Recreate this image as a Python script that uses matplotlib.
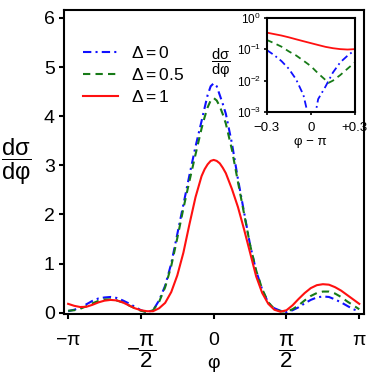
import numpy as np
import matplotlib
matplotlib.use("Agg")
from matplotlib import pyplot as plt
from matplotlib.ticker import FixedLocator, NullLocator

plt.rcParams['font.family'] = ['Liberation Sans', 'DejaVu Sans']
plt.rcParams['mathtext.fontset'] = 'custom'
plt.rcParams['mathtext.rm'] = 'Liberation Sans'
plt.rcParams['mathtext.it'] = 'Liberation Sans'
plt.rcParams['mathtext.sf'] = 'Liberation Sans'
plt.rcParams['mathtext.bf'] = 'Liberation Sans:bold'

# main panel: dsigma/dphi
# phi = -pi ... pi in steps of pi/24, plus a few extra points around the peak
phi = np.sort(np.concatenate([np.linspace(-np.pi, np.pi, 49), [-0.196, -0.065, 0.065, 0.196]]))
xs_d0 = [0.03, 0.06, 0.10, 0.17, 0.24, 0.29, 0.31, 0.32, 0.30, 0.25, 0.19, 0.12, 0.05,
         0.01, 0.05, 0.25, 0.55, 1.00, 1.60, 2.20, 2.80, 3.38, 3.90, 4.17, 4.43, 4.61, 4.67,
         4.61, 4.43, 4.25, 4.05, 3.45, 2.72, 2.05, 1.38, 0.85, 0.47, 0.20, 0.09, 0.04, 0.01,
         0.05, 0.11, 0.19, 0.26, 0.31, 0.33, 0.32, 0.27, 0.21, 0.14, 0.07, 0.03]
xs_d05 = [0.04, 0.05, 0.08, 0.13, 0.19, 0.24, 0.27, 0.27, 0.25, 0.21, 0.15, 0.09, 0.04,
          0.01, 0.05, 0.22, 0.52, 0.95, 1.52, 2.12, 2.68, 3.22, 3.75, 3.98, 4.18, 4.32, 4.37,
          4.32, 4.20, 4.04, 3.85, 3.32, 2.66, 2.02, 1.38, 0.86, 0.48, 0.21, 0.08, 0.03, 0.02,
          0.07, 0.15, 0.25, 0.34, 0.40, 0.43, 0.43, 0.39, 0.32, 0.23, 0.15, 0.07]
xs_d1 = [0.18, 0.14, 0.115, 0.12, 0.16, 0.21, 0.245, 0.26, 0.25, 0.21, 0.15, 0.09, 0.05,
         0.03, 0.03, 0.09, 0.20, 0.42, 0.76, 1.22, 1.80, 2.35, 2.78, 2.92, 3.02, 3.09, 3.11,
         3.09, 3.04, 2.95, 2.84, 2.52, 2.15, 1.70, 1.22, 0.74, 0.40, 0.18, 0.06, 0.02, 0.05,
         0.15, 0.28, 0.40, 0.50, 0.56, 0.58, 0.57, 0.52, 0.45, 0.36, 0.27, 0.18]

# inset: near phi = pi, log scale
dphi_red = [-0.3, -0.25, -0.2, -0.15, -0.1, -0.05, 0.0, 0.05, 0.1, 0.15, 0.2, 0.25, 0.3]
in_d1 = [0.334, 0.30, 0.27, 0.237, 0.205, 0.178, 0.155, 0.135, 0.118, 0.107, 0.100, 0.097, 0.100]
dphi_green = [-0.3, -0.25, -0.2, -0.15, -0.1, -0.05, 0.0, 0.05, 0.1, 0.12, 0.15, 0.2, 0.25, 0.3]
in_d05 = [0.196, 0.155, 0.12, 0.085, 0.063, 0.043, 0.029, 0.017, 0.0105, 0.0085, 0.010, 0.015, 0.024, 0.038]
dphi_blue = [-0.3, -0.25, -0.2, -0.15, -0.1, -0.05, -0.025, 0.005, 0.035, 0.05, 0.1, 0.15, 0.2, 0.25, 0.3]
in_d0 = [0.094, 0.065, 0.042, 0.024, 0.011, 0.0035, 0.0011, 1e-6, 0.0011, 0.0026, 0.0065, 0.018, 0.038, 0.062, 0.094]

labels = [r'$\Delta = 0$', r'$\Delta = 0.5$', r'$\Delta = 1$']
colors = ['#1010ff', '#177a17', '#ff1010']
dash_blue = (0, (4, 2, 1, 2))
dash_green = (0, (3.5, 2.5))

fig = plt.figure(figsize=(3.74, 3.74), dpi=100)
ax = fig.add_axes([0.171, 0.160, 0.802, 0.813])

ax.plot(phi, xs_d0, color=colors[0], lw=1.5, linestyle=dash_blue, label=labels[0])
ax.plot(phi, xs_d05, color=colors[1], lw=1.5, linestyle=dash_green, label=labels[1])
ax.plot(phi, xs_d1, color=colors[2], lw=1.5, label=labels[2])

ax.set_xlim(-np.pi - 0.09, np.pi + 0.1)
ax.set_ylim(-0.03, 6.16)
ax.set_yticks([0, 1, 2, 3, 4, 5, 6])
ax.set_xticks([-np.pi, -np.pi / 2, 0, np.pi / 2, np.pi])
ax.set_xticklabels([r'$-\pi$', r'$-\dfrac{\pi}{2}$', r'$0$', r'$\dfrac{\pi}{2}$', r'$\pi$'])
ax.tick_params(direction='out', length=3.6, width=1.5, labelsize=14)
ax.tick_params(axis='x', pad=9)
ax.tick_params(axis='y', pad=3)
for lbl in ax.get_xticklabels():
    if 'frac' in lbl.get_text():
        lbl.set_fontsize(16)
for s in ax.spines.values():
    s.set_linewidth(1.5)

ax.set_xlabel('φ', fontsize=14, va='center')
ax.xaxis.set_label_coords(0.5, -0.161)
ax.set_ylabel(r'$\dfrac{\mathrm{d}\sigma}{\mathrm{d}φ}$', fontsize=17, rotation=0,
              ha='center', va='center')
ax.yaxis.set_label_coords(-0.158, 0.5)

ax.legend(loc='upper left', bbox_to_anchor=(0.063, 0.885), frameon=False,
          fontsize=12.5, handlelength=2.0, handletextpad=0.75, labelspacing=0.35,
          borderpad=0, borderaxespad=0)

# inset
axi = fig.add_axes([0.713, 0.700, 0.236, 0.253])
axi.plot(dphi_blue, in_d0, color=colors[0], lw=1.3, linestyle=dash_blue)
axi.plot(dphi_green, in_d05, color=colors[1], lw=1.3, linestyle=dash_green)
axi.plot(dphi_red, in_d1, color=colors[2], lw=1.3)
axi.set_yscale('log')
axi.set_xlim(-0.3, 0.3)
axi.set_ylim(1e-3, 1)
axi.xaxis.set_major_locator(FixedLocator([-0.3, 0, 0.3]))
axi.set_xticklabels(['−0.3', '0', '+0.3'])
axi.yaxis.set_major_locator(FixedLocator([1e-3, 1e-2, 1e-1, 1]))
axi.yaxis.set_minor_locator(NullLocator())
axi.set_yticklabels([r'$10^{-3}$', r'$10^{-2}$', r'$10^{-1}$', r'$10^{0}$'])
axi.tick_params(direction='out', length=2.2, width=1.2, labelsize=8.5, pad=2)
axi.tick_params(axis='x', labelsize=9.5, pad=5)
for s in axi.spines.values():
    s.set_linewidth(1.5)
axi.set_xlabel('φ − π', fontsize=9.5, va='center')
axi.xaxis.set_label_coords(0.5, -0.31)
axi.set_ylabel(r'$\dfrac{\mathrm{d}\sigma}{\mathrm{d}φ}$', fontsize=10.5, rotation=0,
               ha='center', va='center')
axi.yaxis.set_label_coords(-0.52, 0.52)

fig.savefig('out.png', dpi=100)
